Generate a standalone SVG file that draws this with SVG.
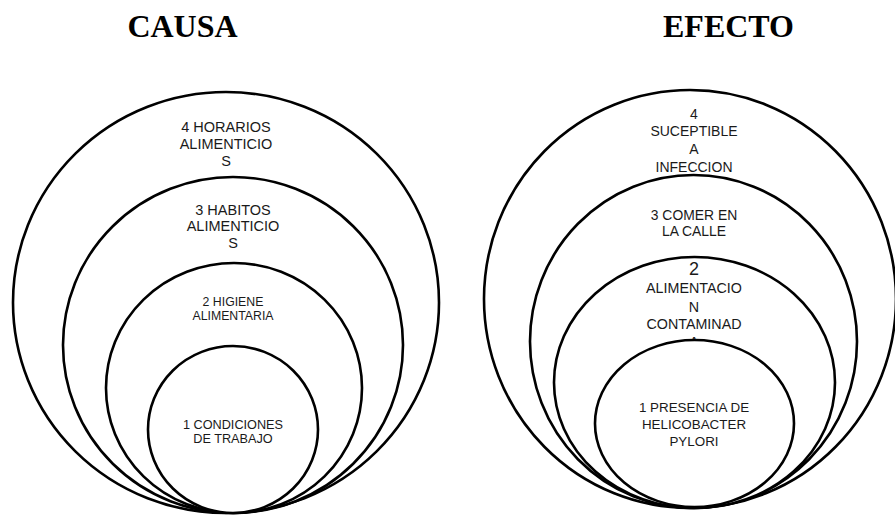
<svg xmlns="http://www.w3.org/2000/svg" width="895" height="515" viewBox="0 0 895 515">
<style>
.ring{fill:#fff;stroke:#000;stroke-width:2.6}
.t{font-family:"Liberation Sans",Arial,sans-serif;fill:#1a1a1a;text-anchor:middle}
.title{font-family:"Liberation Serif","Times New Roman",serif;font-weight:bold;font-size:32px;fill:#000;text-anchor:middle}
</style>
<rect width="895" height="515" fill="#fff"/>
<text class="title" x="182.5" y="37">CAUSA</text>
<text class="title" x="728.5" y="37">EFECTO</text>
<g id="causa-4">
<ellipse class="ring" cx="226" cy="302.5" rx="213" ry="210.5"/>
<text class="t" font-size="14.5" x="226" y="132">4 HORARIOS</text>
<text class="t" font-size="14.5" x="226" y="149">ALIMENTICIO</text>
<text class="t" font-size="14.5" x="226" y="166">S</text>
</g>
<g id="causa-3">
<ellipse class="ring" cx="233" cy="345" rx="170" ry="168"/>
<text class="t" font-size="14.5" x="233" y="215">3 HABITOS</text>
<text class="t" font-size="14.5" x="233" y="231">ALIMENTICIO</text>
<text class="t" font-size="14.5" x="233" y="248">S</text>
</g>
<g id="causa-2">
<ellipse class="ring" cx="234" cy="388" rx="128" ry="125"/>
<text class="t" font-size="12.3" x="233" y="306">2 HIGIENE</text>
<text class="t" font-size="12.3" x="233" y="320">ALIMENTARIA</text>
</g>
<g id="causa-1">
<ellipse class="ring" cx="233" cy="429.5" rx="85" ry="83.5"/>
<text class="t" font-size="12.7" x="233" y="429">1 CONDICIONES</text>
<text class="t" font-size="12.7" x="233" y="443">DE TRABAJO</text>
</g>
<g id="efecto-4">
<ellipse class="ring" cx="690" cy="299" rx="206" ry="209"/>
<text class="t" font-size="14" x="694" y="119">4</text>
<text class="t" font-size="14" x="694" y="136">SUCEPTIBLE</text>
<text class="t" font-size="14" x="694" y="154">A</text>
<text class="t" font-size="14" x="694" y="172">INFECCION</text>
</g>
<g id="efecto-3">
<ellipse class="ring" cx="693.5" cy="341.5" rx="163.5" ry="166.5"/>
<text class="t" font-size="13.9" x="694" y="220">3 COMER EN</text>
<text class="t" font-size="13.9" x="694" y="236">LA CALLE</text>
</g>
<g id="efecto-2">
<ellipse class="ring" cx="694.5" cy="382.5" rx="140.5" ry="125.5"/>
<text class="t" font-size="18" x="694" y="275">2</text>
<text class="t" font-size="14.3" x="694" y="293">ALIMENTACIO</text>
<text class="t" font-size="14.3" x="694" y="312">N</text>
<text class="t" font-size="14.3" x="694" y="329">CONTAMINAD</text>
<text class="t" font-size="14.3" x="694" y="347">A</text>
</g>
<g id="efecto-1">
<ellipse class="ring" cx="694.5" cy="423.5" rx="99.5" ry="83.5"/>
<text class="t" font-size="13.4" x="694" y="412">1 PRESENCIA DE</text>
<text class="t" font-size="13.4" x="694" y="429">HELICOBACTER</text>
<text class="t" font-size="13.4" x="694" y="446">PYLORI</text>
</g>
<g id="connectors"/>
</svg>
